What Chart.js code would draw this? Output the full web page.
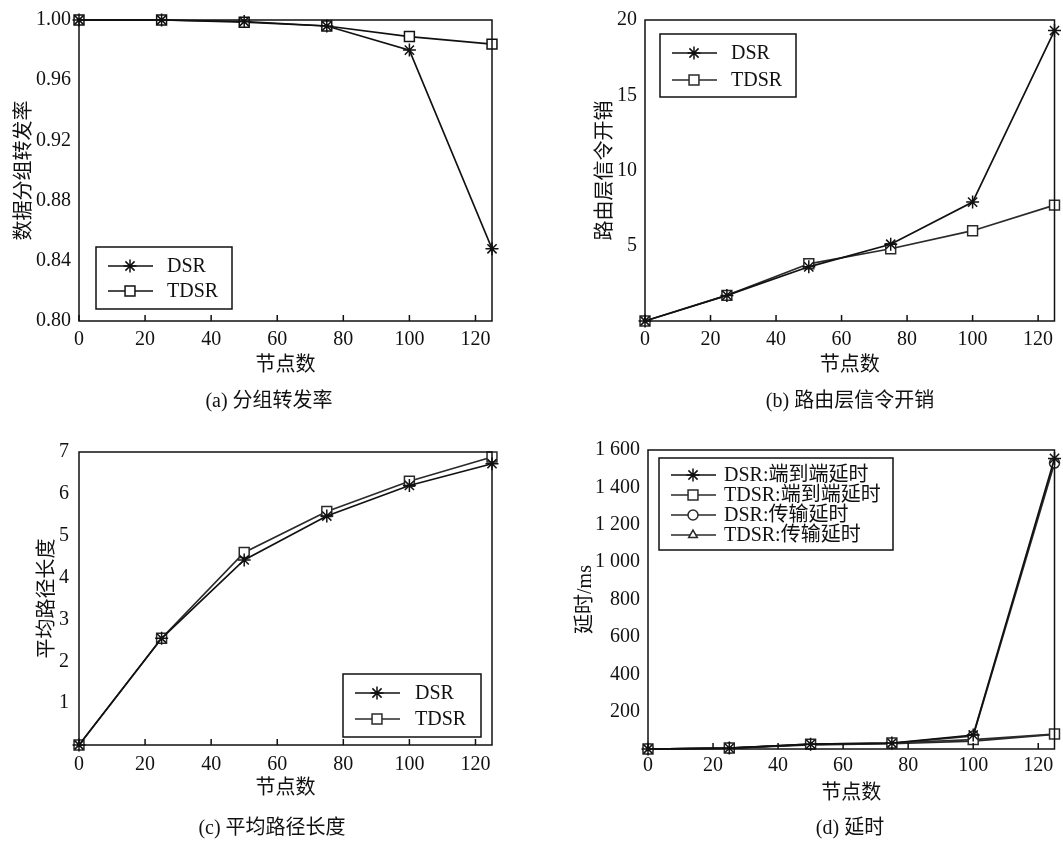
<!DOCTYPE html>
<html>
<head>
<meta charset="utf-8">
<script src="https://cdn.jsdelivr.net/npm/chart.js@4.4.0/dist/chart.umd.min.js"></script>
<style>
  body { margin: 0; background: #fff; width: 1063px; height: 841px; position: relative; overflow: hidden;
         font-family: "Liberation Serif", "Noto Sans CJK SC", serif; }
  .box { position: absolute; }
  .cap { position: absolute; font-size: 20px; color: #111; transform: translate(-50%, -50%); white-space: nowrap; }
</style>
</head>
<body>
<div class="box" style="left:0;top:0;width:520px;height:390px"><canvas id="c1"></canvas></div>
<div class="box" style="left:560px;top:0;width:503px;height:390px"><canvas id="c2"></canvas></div>
<div class="box" style="left:0;top:430px;width:520px;height:411px"><canvas id="c3"></canvas></div>
<div class="box" style="left:560px;top:430px;width:503px;height:411px"><canvas id="c4"></canvas></div>
<div class="cap" style="left:269px;top:398px">(a) 分组转发率</div>
<div class="cap" style="left:850px;top:398px">(b) 路由层信令开销</div>
<div class="cap" style="left:272px;top:825px">(c) 平均路径长度</div>
<div class="cap" style="left:850px;top:825px">(d) 延时</div>

<script>
// 横轴：节点数
const nodes = [0, 25, 50, 75, 100, 125];
const xTicks = [0, 20, 40, 60, 80, 100, 120];

// (a) 分组转发率
const fwdDSR = [1.000, 1.000, 0.999, 0.996, 0.980, 0.848];
const fwdTDSR = [1.000, 1.000, 0.9985, 0.996, 0.989, 0.984];
const fwdTicks = [0.80, 0.84, 0.88, 0.92, 0.96, 1.00];

// (b) 路由层信令开销
const ovhDSR = [0, 1.7, 3.6, 5.1, 7.9, 19.3];
const ovhTDSR = [0, 1.7, 3.8, 4.8, 6.0, 7.7];
const ovhTicks = [5, 10, 15, 20];

// (c) 平均路径长度
const lenDSR = [0, 2.55, 4.42, 5.47, 6.2, 6.72];
const lenTDSR = [0, 2.55, 4.6, 5.58, 6.3, 6.88];
const lenTicks = [1, 2, 3, 4, 5, 6, 7];

// (d) 延时 (ms)
const e2eDSR = [0, 5, 26, 32, 75, 1555];
const e2eTDSR = [0, 5, 26, 32, 50, 80];
const txDSR = [0, 5, 24, 30, 70, 1530];
const txTDSR = [0, 5, 22, 28, 42, 78];
const delayTicks = [200, 400, 600, 800, 1000, 1200, 1400, 1600];

const FONT = '"Liberation Serif", "Noto Sans CJK SC", serif';
const INK = "#111";

function series(label, values, style, color) {
  return {
    label: label,
    data: nodes.map((n, i) => ({ x: n, y: values[i] })),
    borderColor: color || INK,
    borderWidth: 1.7,
    pointStyle: style,
    pointRadius: style === "star" ? 6.5 : (style === "rect" ? 7 : 5),
    pointBackgroundColor: "#fff",
    pointBorderColor: color || INK,
    pointBorderWidth: 1.5,
    tension: 0,
    clip: false,
  };
}

// frame, inward ticks and the boxed legend
const frame = {
  id: "frame",
  afterDraw(chart, args, opts) {
    const { ctx, chartArea: a } = chart;
    const x = chart.scales.x;
    ctx.save();
    ctx.strokeStyle = INK;
    ctx.lineWidth = 1.5;
    ctx.strokeRect(a.left, a.top, a.right - a.left, a.bottom - a.top);
    ctx.beginPath();
    xTicks.forEach((v) => {
      const px = x.getPixelForValue(v);
      ctx.moveTo(px, a.bottom);
      ctx.lineTo(px, a.bottom - 6);
    });
    ctx.stroke();

    const L = opts.legend;
    if (L) {
      const bx = a.left + L.x, by = a.top + L.y;
      ctx.strokeRect(bx, by, L.w, L.h);
      ctx.font = L.size + "px " + FONT;
      ctx.textBaseline = "middle";
      chart.data.datasets.forEach((ds, i) => {
        const ry = by + L.first + i * L.row;
        ctx.strokeStyle = ds.borderColor;
        ctx.lineWidth = 1.7;
        ctx.beginPath();
        ctx.moveTo(bx + 12, ry);
        ctx.lineTo(bx + 57, ry);
        ctx.stroke();
        ctx.fillStyle = "#fff";
        ctx.lineWidth = 1.5;
        Chart.helpers.drawPoint(ctx, {
          pointStyle: ds.pointStyle, radius: ds.pointRadius, rotation: 0, borderWidth: 1.5,
        }, bx + 34, ry);
        ctx.fillStyle = INK;
        ctx.fillText(ds.label, bx + L.text, ry + 1);
      });
    }
    ctx.restore();
  },
};

function makeChart(id, p) {
  new Chart(document.getElementById(id), {
    type: "line",
    data: { datasets: p.datasets },
    options: {
      responsive: true,
      maintainAspectRatio: false,
      animation: false,
      layout: { padding: { left: 0, top: p.padTop, right: p.padRight, bottom: 0 } },
      plugins: {
        legend: { display: false },
        tooltip: { enabled: false },
        frame: { legend: p.legend },
      },
      scales: {
        x: {
          type: "linear",
          min: 0,
          max: 125,
          grid: { display: false, drawTicks: false },
          border: { display: false },
          afterBuildTicks: (s) => { s.ticks = xTicks.map((v) => ({ value: v })); },
          afterFit: (s) => { s.height = p.xHeight; },
          ticks: { padding: p.xPad, color: INK, font: { family: FONT, size: 20 } },
          title: {
            display: true, text: "节点数", color: INK,
            font: { family: FONT, size: 20 }, padding: { top: 0, bottom: p.xTitlePad },
          },
        },
        y: {
          min: p.yMin,
          max: p.yMax,
          grid: { display: false, drawTicks: false },
          border: { display: false },
          afterBuildTicks: (s) => { s.ticks = p.yTicks.map((v) => ({ value: v })); },
          afterFit: (s) => { s.width = p.yWidth; },
          ticks: { padding: p.yPad, color: INK, font: { family: FONT, size: 20 }, callback: p.fmt },
          title: {
            display: true, text: p.yTitle, color: INK,
            font: { family: FONT, size: 20 }, padding: { top: p.yTitlePad, bottom: 0 },
          },
        },
      },
    },
    plugins: [frame],
  });
}

makeChart("c1", {
  datasets: [series("DSR", fwdDSR, "star"), series("TDSR", fwdTDSR, "rect")],
  yMin: 0.8, yMax: 1.0, yTicks: fwdTicks, fmt: (v) => v.toFixed(2),
  yTitle: "数据分组转发率",
  padTop: 16, padRight: 28, xHeight: 69, yWidth: 79,
  xPad: 7, yPad: 8, xTitlePad: 12, yTitlePad: 13,
  legend: { x: 17, y: 227, w: 136, h: 62, first: 19, row: 25, text: 71, size: 20 },
});

makeChart("c2", {
  datasets: [series("DSR", ovhDSR, "star"), series("TDSR", ovhTDSR, "rect", "#2a2a2a")],
  yMin: 0, yMax: 20, yTicks: ovhTicks, fmt: (v) => String(v),
  yTitle: "路由层信令开销",
  padTop: 16, padRight: 4, xHeight: 69, yWidth: 85,
  xPad: 7, yPad: 8, xTitlePad: 12, yTitlePad: 34,
  legend: { x: 15, y: 14, w: 136, h: 63, first: 19, row: 27, text: 71, size: 20 },
});

makeChart("c3", {
  datasets: [series("DSR", lenDSR, "star"), series("TDSR", lenTDSR, "rect", "#2a2a2a")],
  yMin: 0, yMax: 7, yTicks: lenTicks, fmt: (v) => String(v),
  yTitle: "平均路径长度",
  padTop: 12, padRight: 28, xHeight: 96, yWidth: 79,
  xPad: 8, yPad: 10, xTitlePad: 40, yTitlePad: 36,
  legend: { x: 264, y: 222, w: 138, h: 63, first: 19, row: 26, text: 72, size: 20 },
});

makeChart("c4", {
  datasets: [
    series("DSR:端到端延时", e2eDSR, "star"),
    series("TDSR:端到端延时", e2eTDSR, "rect", "#2a2a2a"),
    series("DSR:传输延时", txDSR, "circle", "#2a2a2a"),
    series("TDSR:传输延时", txTDSR, "triangle", "#2a2a2a"),
  ],
  yMin: 0, yMax: 1600, yTicks: delayTicks,
  fmt: (v) => (v >= 1000 ? Math.floor(v / 1000) + " " + String(v % 1000).padStart(3, "0") : String(v)),
  yTitle: "延时/ms",
  padTop: 15, padRight: 2, xHeight: 92, yWidth: 88,
  xPad: 5, yPad: 8, xTitlePad: 35, yTitlePad: 14,
  legend: { x: 11, y: 8, w: 234, h: 92, first: 17, row: 20, text: 65, size: 20 },
});
</script>
</body>
</html>
